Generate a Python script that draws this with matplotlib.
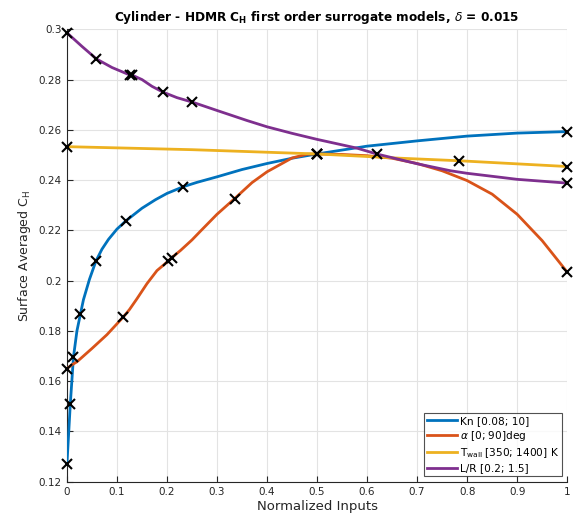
import matplotlib
matplotlib.use("Agg")
import matplotlib.pyplot as plt
from matplotlib.ticker import FuncFormatter

plt.rcParams["font.family"] = ["DejaVu Sans"]
plt.rcParams["mathtext.fontset"] = "dejavusans"

# ---- curve data ----
kn_x = [0, 0.0067, 0.013, 0.02, 0.027, 0.033, 0.045, 0.058, 0.07, 0.083, 0.1, 0.118, 0.15, 0.177, 0.2,
        0.233, 0.26, 0.3, 0.35, 0.4, 0.45, 0.5, 0.6, 0.7, 0.8, 0.9, 1.0]
kn_y = [0.127, 0.1508, 0.1695, 0.1800, 0.1867, 0.1924, 0.2005, 0.2078, 0.2125, 0.2164, 0.2205, 0.2238,
        0.2288, 0.2322, 0.2347, 0.2374, 0.2391, 0.2413, 0.2442, 0.2466, 0.2487, 0.2504, 0.2535, 0.2556,
        0.2575, 0.2587, 0.2593]

al_x = [0, 0.01, 0.02, 0.05, 0.08, 0.113, 0.125, 0.14, 0.16, 0.18, 0.202, 0.21, 0.227, 0.25, 0.267,
        0.3, 0.335, 0.37, 0.4, 0.45, 0.48, 0.5, 0.55, 0.6, 0.65, 0.7, 0.75, 0.8, 0.85, 0.9, 0.95, 1.0]
al_y = [0.165, 0.1665, 0.1677, 0.1730, 0.1785, 0.1856, 0.1885, 0.1928, 0.1988, 0.2040, 0.2077, 0.2092,
        0.2120, 0.2162, 0.2197, 0.2264, 0.2326, 0.2390, 0.2433, 0.2488, 0.2503, 0.2504, 0.2502, 0.2497,
        0.2487, 0.2466, 0.2437, 0.2398, 0.2344, 0.2264, 0.2159, 0.2034]

tw_x = [0, 0.25, 0.5, 0.667, 0.783, 1.0]
tw_y = [0.2533, 0.2521, 0.2504, 0.2487, 0.2477, 0.2454]

lr_x = [0, 0.03, 0.059, 0.09, 0.127, 0.131, 0.15, 0.17, 0.192, 0.22, 0.251, 0.3, 0.36, 0.4, 0.45, 0.5,
        0.58, 0.619, 0.667, 0.7, 0.767, 0.8, 0.867, 0.9, 1.0]
lr_y = [0.2986, 0.2932, 0.2882, 0.2848, 0.2817, 0.2817, 0.2800, 0.2773, 0.2750, 0.2728, 0.2710, 0.2677,
        0.2637, 0.2612, 0.2586, 0.2562, 0.2527, 0.2504, 0.2481, 0.2465, 0.2437, 0.2427, 0.2411, 0.2403, 0.2388]

# ---- sample points (markers) ----
kn_sx = [0, 0.0067, 0.013, 0.027, 0.058, 0.118, 0.233, 0.5, 1.0]
kn_sy = [0.127, 0.1508, 0.1695, 0.1867, 0.2078, 0.2238, 0.2374, 0.2504, 0.2593]
al_sx = [0, 0.113, 0.202, 0.21, 0.335, 0.5, 1.0]
al_sy = [0.165, 0.1856, 0.2077, 0.2092, 0.2326, 0.2504, 0.2034]
tw_sx = [0, 0.5, 0.783, 1.0]
tw_sy = [0.2533, 0.2504, 0.2477, 0.2454]
lr_sx = [0, 0.059, 0.127, 0.131, 0.192, 0.251, 0.619, 1.0]
lr_sy = [0.2986, 0.2882, 0.2817, 0.2817, 0.2750, 0.2710, 0.2504, 0.2388]

labels = ["Kn [0.08; 10]", r"$\alpha$ [0; 90]deg", r"T$_{\mathrm{wall}}$ [350; 1400] K", "L/R [0.2; 1.5]"]
colors = ["#0072BD", "#D95319", "#EDB120", "#7E2F8E"]

x_ticks = [0, 0.1, 0.2, 0.3, 0.4, 0.5, 0.6, 0.7, 0.8, 0.9, 1.0]
y_ticks = [0.12, 0.14, 0.16, 0.18, 0.2, 0.22, 0.24, 0.26, 0.28, 0.3]

fig = plt.figure(figsize=(5.77, 5.22), dpi=100)
ax = fig.add_axes([0.116, 0.0772, 0.867, 0.8667])

curves = [(kn_x, kn_y), (al_x, al_y), (tw_x, tw_y), (lr_x, lr_y)]
samples = [(kn_sx, kn_sy), (al_sx, al_sy), (tw_sx, tw_sy), (lr_sx, lr_sy)]
handles = []
for (cx, cy), c, lab in zip(curves, colors, labels):
    h, = ax.plot(cx, cy, color=c, lw=2, label=lab, zorder=3, solid_joinstyle="round")
    handles.append(h)
for (sx, sy) in samples:
    ax.plot(sx, sy, linestyle="none", marker="x", color="black", ms=7, mew=1.5, zorder=4, clip_on=False)

ax.set_xlim(0, 1)
ax.set_ylim(0.12, 0.3)
ax.set_xticks(x_ticks)
ax.set_yticks(y_ticks)
fmt = FuncFormatter(lambda v, p: "%g" % round(v, 4))
ax.xaxis.set_major_formatter(fmt)
ax.yaxis.set_major_formatter(fmt)
ax.grid(True, color="#e3e3e3", lw=0.8, zorder=0)
ax.set_axisbelow(True)
ax.spines["top"].set_visible(False)
ax.spines["right"].set_visible(False)
ax.spines["left"].set_color("#262626")
ax.spines["bottom"].set_color("#262626")
ax.tick_params(direction="in", length=4, width=0.8, colors="#262626", labelsize=7.5, pad=4)

ax.set_xlabel("Normalized Inputs", fontsize=9.5, color="#262626", labelpad=2)
ax.set_ylabel(r"Surface Averaged C$_\mathrm{H}$", fontsize=9, color="#262626", labelpad=4)
ax.set_title(r"Cylinder - HDMR C$_\mathbf{H}$ first order surrogate models, $\delta$ = 0.015",
             fontsize=8.7, fontweight="bold", pad=6)

leg = ax.legend(handles=handles, loc="lower right", fontsize=7.6, frameon=True, fancybox=False,
                edgecolor="#262626", handlelength=2.8, borderaxespad=0.5, labelspacing=0.3,
                handletextpad=0.3, borderpad=0.3)
leg.get_frame().set_linewidth(0.8)

fig.savefig("out.png", dpi=100)
